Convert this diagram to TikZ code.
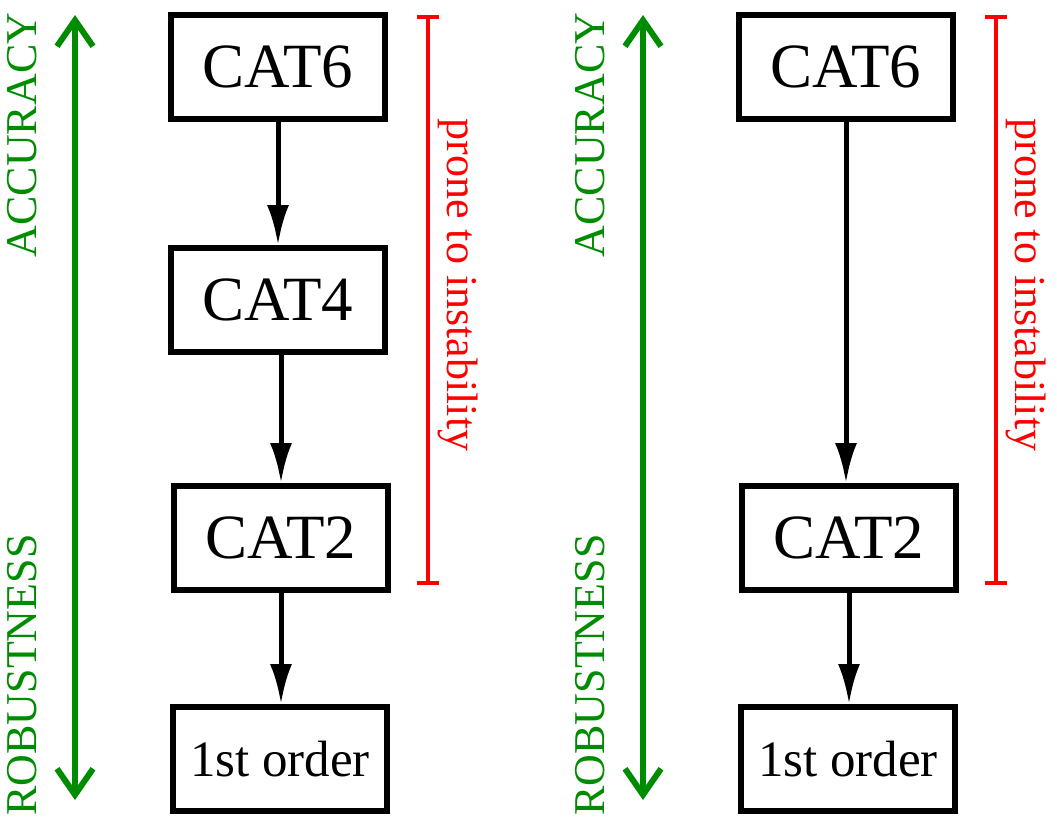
\documentclass[tikz,border=0pt]{standalone}
\usepackage{fontspec}
\setmainfont{Liberation Serif}
\usetikzlibrary{arrows.meta}
\definecolor{gr}{RGB}{0,140,0}
\begin{document}
\begin{tikzpicture}[x=1pt,y=-1pt,
  bx/.style={draw,line width=6pt,minimum width=214pt,minimum height=104pt,inner sep=0pt,font=\fontsize{63}{70}\selectfont},
  sm/.style={font=\fontsize{51}{58}\selectfont},
  ar/.style={line width=5pt,-{Latex[length=40pt,width=22pt]}},
  dbl/.style={gr,line width=6pt,{Straight Barb[length=26pt,width=36pt,line width=6pt]}-{Straight Barb[length=26pt,width=36pt,line width=6pt]}},
  side/.style={font=\fontsize{44}{50}\selectfont}]
\useasboundingbox (0,0) rectangle (1057,822);
\foreach \o/\full in {0/1,568/0}{
  \begin{scope}[xshift=\o pt]
  \draw[dbl] (75,15) -- (75,800);
  \node[side,gr,rotate=90] (acc\o) at (22,135) {ACCURACY};
  \node[side,gr,rotate=90] (rob\o) at (22,675) {ROBUSTNESS};
  \node[bx] (c6\o) at (278,67) {CAT6};
  \node[bx] (c2\o) at (281,538) {CAT2};
  \node[bx,sm] (c1\o) at (280,759) {1st order};
  \ifnum\full=1
    \node[bx] (c4\o) at (278,300) {CAT4};
    \draw[ar] (c6\o) -- (c4\o);
    \draw[ar] (c4\o.south -| c2\o) -- (c2\o);
  \else
    \draw[ar] (c6\o) -- (c6\o|-c2\o.north);
  \fi
  \draw[ar] (c2\o) -- (c2\o|-c1\o.north);
  \coordinate (bt\o) at (428,15);
  \coordinate (bb\o) at (428,585);
  \draw[red,line width=4pt,{Bar[width=22pt,line width=4pt]}-{Bar[width=22pt,line width=4pt]}] (bt\o) -- (bb\o);
  \node[side,red,rotate=-90] (pr\o) at (458,285) {prone to instability};
  \end{scope}}
\end{tikzpicture}
\end{document}
